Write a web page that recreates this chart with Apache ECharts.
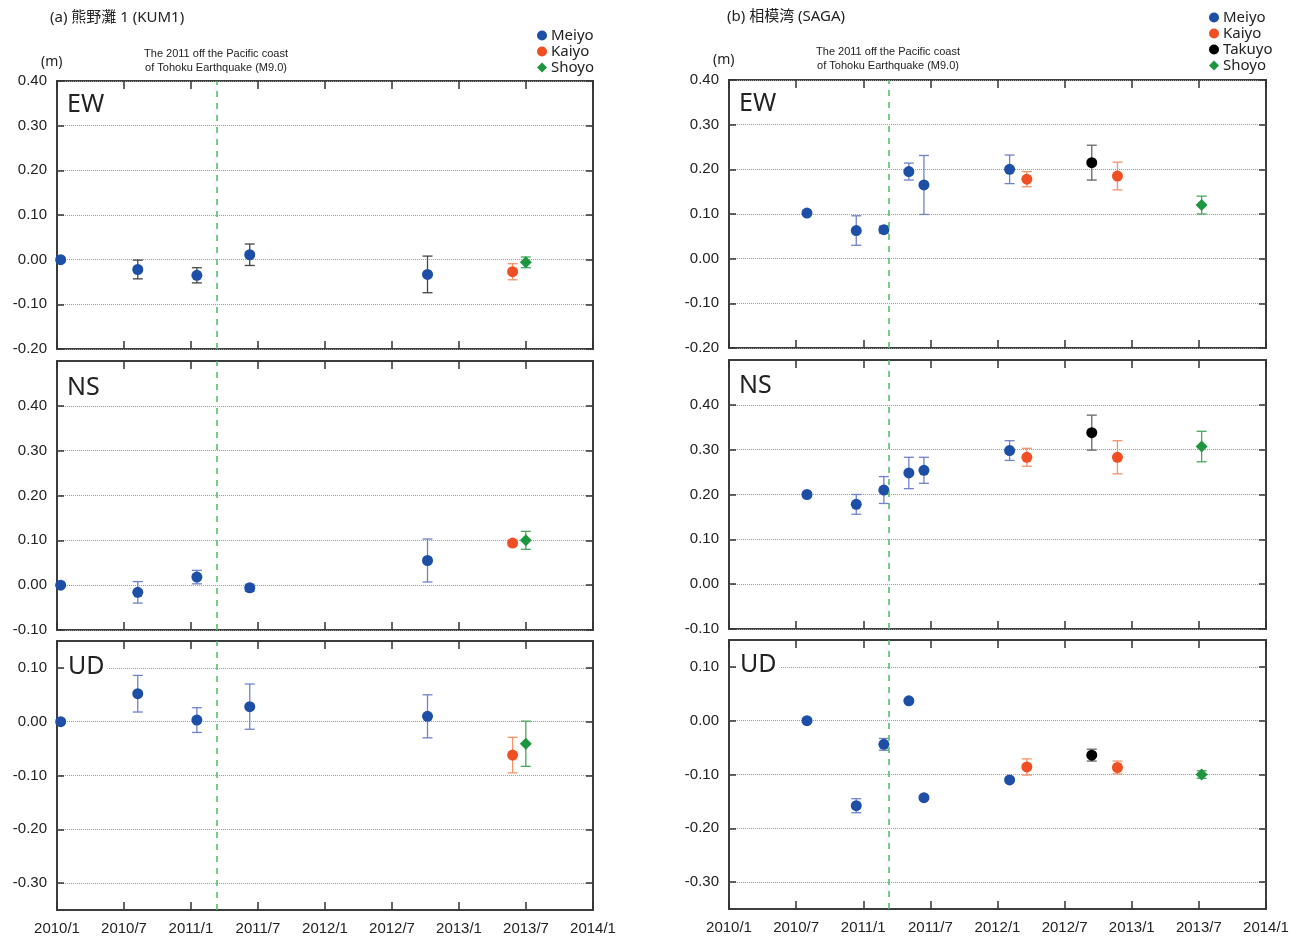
<!DOCTYPE html>
<html>
<head>
<meta charset="utf-8">
<script src="https://cdn.jsdelivr.net/npm/echarts@6/dist/echarts.min.js"></script>
<style>
  html, body { margin: 0; padding: 0; background: #fff; }
  #chart { width: 1305px; height: 938px; }
</style>
</head>
<body>
<div id="chart"></div>
<script>
// ---- (a) KUM1 : survey dates and displacements (m), errors are +/- half-widths
const kumMeiyoDates = ['2010-01-11', '2010-08-09', '2011-01-17', '2011-06-10', '2012-10-07'];
const kumKaiyoDates = ['2013-05-27'];
const kumShoyoDates = ['2013-07-02'];

const kumMeiyoEW = [0, -0.022, -0.035, 0.011, -0.033];
const kumMeiyoEWErr = [0, 0.021, 0.017, 0.024, 0.041];
const kumKaiyoEW = [-0.027];
const kumKaiyoEWErr = [0.018];
const kumShoyoEW = [-0.006];
const kumShoyoEWErr = [0.012];

const kumMeiyoNS = [0, -0.016, 0.018, -0.006, 0.055];
const kumMeiyoNSErr = [0, 0.024, 0.015, 0.008, 0.048];
const kumKaiyoNS = [0.094];
const kumKaiyoNSErr = [0.006];
const kumShoyoNS = [0.100];
const kumShoyoNSErr = [0.020];

const kumMeiyoUD = [0, 0.052, 0.003, 0.028, 0.010];
const kumMeiyoUDErr = [0, 0.034, 0.023, 0.042, 0.040];
const kumKaiyoUD = [-0.062];
const kumKaiyoUDErr = [0.033];
const kumShoyoUD = [-0.041];
const kumShoyoUDErr = [0.042];

// ---- (b) SAGA
const sagaMeiyoDates = ['2010-08-01', '2010-12-13', '2011-02-26', '2011-05-05', '2011-06-15', '2012-02-03'];
const sagaKaiyoDates = ['2012-03-21', '2012-11-23'];
const sagaTakuyoDates = ['2012-09-14'];
const sagaShoyoDates = ['2013-07-10'];

const sagaMeiyoEW = [0.102, 0.063, 0.065, 0.195, 0.165, 0.200];
const sagaMeiyoEWErr = [0, 0.033, 0.008, 0.019, 0.066, 0.032];
const sagaKaiyoEW = [0.178, 0.185];
const sagaKaiyoEWErr = [0.017, 0.031];
const sagaTakuyoEW = [0.215];
const sagaTakuyoEWErr = [0.039];
const sagaShoyoEW = [0.120];
const sagaShoyoEWErr = [0.020];

const sagaMeiyoNS = [0.200, 0.178, 0.210, 0.248, 0.254, 0.298];
const sagaMeiyoNSErr = [0, 0.022, 0.030, 0.035, 0.029, 0.022];
const sagaKaiyoNS = [0.283, 0.283];
const sagaKaiyoNSErr = [0.020, 0.037];
const sagaTakuyoNS = [0.338];
const sagaTakuyoNSErr = [0.039];
const sagaShoyoNS = [0.307];
const sagaShoyoNSErr = [0.034];

const sagaMeiyoUD = [0, -0.158, -0.044, 0.037, -0.143, -0.110];
const sagaMeiyoUDErr = [0, 0.013, 0.011, 0, 0, 0];
const sagaKaiyoUD = [-0.086, -0.087];
const sagaKaiyoUDErr = [0.015, 0.012];
const sagaTakuyoUD = [-0.064];
const sagaTakuyoUDErr = [0.011];
const sagaShoyoUD = [-0.100];
const sagaShoyoUDErr = [0.007];

const quakeDate = '2011-03-11';

// axis ranges / tick labels
const ewRange = [-0.2, 0.4];
const nsRange = [-0.1, 0.5];
const udRange = [-0.35, 0.15];
const ewTicks = [-0.2, -0.1, 0, 0.1, 0.2, 0.3, 0.4];
const nsTicks = [-0.1, 0, 0.1, 0.2, 0.3, 0.4];
const udTicks = [-0.3, -0.2, -0.1, 0, 0.1];

// colours
const C = {
  Meiyo: '#1d4fa6', Kaiyo: '#f04e23', Takuyo: '#000000', Shoyo: '#1e9640',
  blueBar: '#6f82cc', grayBar: '#444444', orangeBar: '#f5936a', greenBar: '#45a85a', blackBar: '#666666'
};

function toYear(s) {
  const [y, m, d] = s.split('-').map(Number);
  const t0 = Date.UTC(y, 0, 1), t1 = Date.UTC(y + 1, 0, 1);
  return y + (Date.UTC(y, m - 1, d) - t0) / (t1 - t0);
}

// panel definitions: grid box + ships
const grids = [
  { left: 57, top: 81, width: 536, height: 268 },
  { left: 57, top: 361, width: 536, height: 269 },
  { left: 57, top: 641, width: 536, height: 269 },
  { left: 729, top: 80, width: 537, height: 268 },
  { left: 729, top: 360, width: 537, height: 269 },
  { left: 729, top: 640, width: 537, height: 269 }
];
const ranges = [ewRange, nsRange, udRange, ewRange, nsRange, udRange];
const tickSets = [ewTicks, nsTicks, udTicks, ewTicks, nsTicks, udTicks];

const panels = [
  [['Meiyo', kumMeiyoDates, kumMeiyoEW, kumMeiyoEWErr, C.grayBar],
   ['Kaiyo', kumKaiyoDates, kumKaiyoEW, kumKaiyoEWErr, C.orangeBar],
   ['Shoyo', kumShoyoDates, kumShoyoEW, kumShoyoEWErr, C.greenBar]],
  [['Meiyo', kumMeiyoDates, kumMeiyoNS, kumMeiyoNSErr, C.blueBar],
   ['Kaiyo', kumKaiyoDates, kumKaiyoNS, kumKaiyoNSErr, C.orangeBar],
   ['Shoyo', kumShoyoDates, kumShoyoNS, kumShoyoNSErr, C.greenBar]],
  [['Meiyo', kumMeiyoDates, kumMeiyoUD, kumMeiyoUDErr, C.blueBar],
   ['Kaiyo', kumKaiyoDates, kumKaiyoUD, kumKaiyoUDErr, C.orangeBar],
   ['Shoyo', kumShoyoDates, kumShoyoUD, kumShoyoUDErr, C.greenBar]],
  [['Meiyo', sagaMeiyoDates, sagaMeiyoEW, sagaMeiyoEWErr, C.blueBar],
   ['Kaiyo', sagaKaiyoDates, sagaKaiyoEW, sagaKaiyoEWErr, C.orangeBar],
   ['Takuyo', sagaTakuyoDates, sagaTakuyoEW, sagaTakuyoEWErr, C.blackBar],
   ['Shoyo', sagaShoyoDates, sagaShoyoEW, sagaShoyoEWErr, C.greenBar]],
  [['Meiyo', sagaMeiyoDates, sagaMeiyoNS, sagaMeiyoNSErr, C.blueBar],
   ['Kaiyo', sagaKaiyoDates, sagaKaiyoNS, sagaKaiyoNSErr, C.orangeBar],
   ['Takuyo', sagaTakuyoDates, sagaTakuyoNS, sagaTakuyoNSErr, C.blackBar],
   ['Shoyo', sagaShoyoDates, sagaShoyoNS, sagaShoyoNSErr, C.greenBar]],
  [['Meiyo', sagaMeiyoDates, sagaMeiyoUD, sagaMeiyoUDErr, C.blueBar],
   ['Kaiyo', sagaKaiyoDates, sagaKaiyoUD, sagaKaiyoUDErr, C.orangeBar],
   ['Takuyo', sagaTakuyoDates, sagaTakuyoUD, sagaTakuyoUDErr, C.blackBar],
   ['Shoyo', sagaShoyoDates, sagaShoyoUD, sagaShoyoUDErr, C.greenBar]]
];

const labelFont = 'Liberation Sans, Arial, sans-serif';
const xAxes = [], yAxes = [], series = [];

grids.forEach((g, i) => {
  const isBottom = i === 2 || i === 5;
  const tickStyle = { color: '#333', width: 1.5 };
  xAxes.push({
    gridIndex: i, type: 'value', min: 2010, max: 2014, interval: 0.5, position: 'bottom',
    axisLine: { show: false, onZero: false },
    axisTick: { show: true, inside: true, length: 8, lineStyle: tickStyle },
    splitLine: { show: false },
    axisLabel: {
      show: isBottom, margin: 11, color: '#222', fontSize: 15, fontFamily: labelFont,
      formatter: v => { const y = Math.floor(v + 1e-6); return y + '/' + (v - y > 0.25 ? 7 : 1); }
    }
  });
  xAxes.push({
    gridIndex: i, type: 'value', min: 2010, max: 2014, interval: 0.5, position: 'top',
    axisLine: { show: false, onZero: false },
    axisTick: { show: true, inside: true, length: 8, lineStyle: tickStyle },
    splitLine: { show: false }, axisLabel: { show: false }
  });
  yAxes.push({
    gridIndex: i, type: 'value', min: ranges[i][0], max: ranges[i][1], position: 'left',
    axisLine: { show: false, onZero: false },
    axisTick: { show: true, inside: true, length: 7, lineStyle: tickStyle, customValues: tickSets[i] },
    splitLine: { show: true, lineStyle: { color: '#9a9a9a', type: 'dotted', width: 1 } },
    axisLabel: {
      margin: 10, color: '#222', fontSize: 15, fontFamily: labelFont,
      customValues: tickSets[i], formatter: v => v.toFixed(2)
    }
  });
  yAxes.push({
    gridIndex: i, type: 'value', min: ranges[i][0], max: ranges[i][1], position: 'right',
    axisLine: { show: false, onZero: false },
    axisTick: { show: true, inside: true, length: 7, lineStyle: tickStyle, customValues: tickSets[i] },
    splitLine: { show: false }, axisLabel: { show: false }
  });

  panels[i].forEach((ship, k) => {
    const [name, dates, vals, errs, barColor] = ship;
    const pts = dates.map((d, j) => [toYear(d), vals[j], errs[j]]);
    series.push({
      name: name + '-err', type: 'custom', xAxisIndex: 2 * i, yAxisIndex: 2 * i, z: 3,
      encode: { x: 0, y: 1 }, data: pts, silent: true,
      renderItem: (params, api) => {
        const x = api.value(0), v = api.value(1), e = api.value(2);
        if (!e) return null;
        const a = api.coord([x, v + e]), b = api.coord([x, v - e]);
        const st = { stroke: barColor, lineWidth: 1.3 };
        return {
          type: 'group', children: [
            { type: 'line', shape: { x1: a[0], y1: a[1], x2: b[0], y2: b[1] }, style: st },
            { type: 'line', shape: { x1: a[0] - 5, y1: a[1], x2: a[0] + 5, y2: a[1] }, style: st },
            { type: 'line', shape: { x1: b[0] - 5, y1: b[1], x2: b[0] + 5, y2: b[1] }, style: st }
          ]
        };
      }
    });
    const s = {
      name: name, type: 'scatter', xAxisIndex: 2 * i, yAxisIndex: 2 * i, z: 4,
      symbol: name === 'Shoyo' ? 'diamond' : 'circle',
      symbolSize: name === 'Shoyo' ? 12 : 11,
      itemStyle: { color: C[name], opacity: 1 },
      data: pts.map(p => [p[0], p[1]])
    };
    if (k === 0) {
      s.markLine = {
        silent: true, symbol: 'none', label: { show: false },
        lineStyle: { color: '#4cbb5c', type: [6, 6], width: 1.5 },
        data: [{ xAxis: toYear(quakeDate) }]
      };
    }
    series.push(s);
  });
});

const txt = (text, x, y, size, extra) => Object.assign({
  type: 'text', x: x, y: y, z: 10,
  style: Object.assign({ text: text, fontSize: size, fontFamily: 'Noto Sans, sans-serif', fill: '#222', verticalAlign: 'middle' }, extra || {})
});

const titleFont = 'Noto Sans, Noto Sans CJK JP, sans-serif';
const graphics = [
  txt('(a) 熊野灘 1 (KUM1)', 50, 18, 15, { fontFamily: titleFont }),
  txt('(b) 相模湾 (SAGA)', 727, 17, 15, { fontFamily: titleFont }),
  txt('(m)', 41, 62, 14),
  txt('(m)', 713, 60, 14),
  txt('The 2011 off the Pacific coast', 216, 54, 11, { align: 'center', fontFamily: 'Liberation Sans Narrow, sans-serif' }),
  txt('of Tohoku Earthquake (M9.0)', 216, 68, 11, { align: 'center', fontFamily: 'Liberation Sans Narrow, sans-serif' }),
  txt('The 2011 off the Pacific coast', 888, 52, 11, { align: 'center', fontFamily: 'Liberation Sans Narrow, sans-serif' }),
  txt('of Tohoku Earthquake (M9.0)', 888, 66, 11, { align: 'center', fontFamily: 'Liberation Sans Narrow, sans-serif' }),
  txt('EW', 67, 105, 25),
  txt('NS', 67, 388, 25),
  txt('UD', 65, 667, 25, { backgroundColor: '#fff', padding: [0, 3] }),
  txt('EW', 739, 104, 25),
  txt('NS', 739, 386, 25),
  txt('UD', 737, 665, 25, { backgroundColor: '#fff', padding: [0, 3] })
];

const legendBase = {
  orient: 'vertical', itemWidth: 10, itemHeight: 10, itemGap: 1, selectedMode: false,
  textStyle: { fontSize: 15, color: '#222', lineHeight: 14, fontFamily: 'Noto Sans, sans-serif', padding: [0, 0, 0, -1] }
};

const option = {
  animation: false,
  backgroundColor: '#fff',
  grid: grids.map(g => Object.assign({ show: true, borderColor: '#3d3d3d', borderWidth: 2, backgroundColor: 'transparent' }, g)),
  xAxis: xAxes,
  yAxis: yAxes,
  legend: [
    Object.assign({ left: 532, top: 23, data: ['Meiyo', 'Kaiyo', 'Shoyo'] }, legendBase),
    Object.assign({ left: 1204, top: 5, data: ['Meiyo', 'Kaiyo', 'Takuyo', 'Shoyo'] }, legendBase)
  ],
  graphic: graphics,
  series: series
};

const chart = echarts.init(document.getElementById('chart'));
chart.setOption(option);
</script>
</body>
</html>
